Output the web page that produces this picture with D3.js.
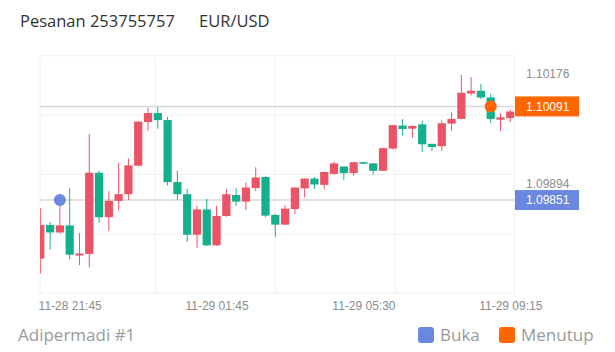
<!DOCTYPE html>
<html>
<head>
<meta charset="utf-8">
<script src="https://cdn.jsdelivr.net/npm/d3@7"></script>
<style>
  body { margin: 0; background: #fff; }
  svg { display: block; font-family: "Liberation Sans", Arial, sans-serif; }
</style>
</head>
<body>
<svg id="chart" width="615" height="352"></svg>
<script>
// 15-minute candles (00:00 slot missing at the daily rollover)
const times = [
    "11-28 21:00", "11-28 21:15", "11-28 21:30", "11-28 21:45", "11-28 22:00", "11-28 22:15",
    "11-28 22:30", "11-28 22:45", "11-28 23:00", "11-28 23:15", "11-28 23:30", "11-28 23:45",
    "11-29 00:15", "11-29 00:30", "11-29 00:45", "11-29 01:00", "11-29 01:15", "11-29 01:30",
    "11-29 01:45", "11-29 02:00", "11-29 02:15", "11-29 02:30", "11-29 02:45", "11-29 03:00",
    "11-29 03:15", "11-29 03:30", "11-29 03:45", "11-29 04:00", "11-29 04:15", "11-29 04:30",
    "11-29 04:45", "11-29 05:00", "11-29 05:15", "11-29 05:30", "11-29 05:45", "11-29 06:00",
    "11-29 06:15", "11-29 06:30", "11-29 06:45", "11-29 07:00", "11-29 07:15", "11-29 07:30",
    "11-29 07:45", "11-29 08:00", "11-29 08:15", "11-29 08:30", "11-29 08:45", "11-29 09:00",
    "11-29 09:15"
];
const opens = [
    1.09701, 1.09787, 1.09768, 1.09786, 1.09709, 1.09713, 1.09921, 1.09807, 1.09849, 1.09866,
    1.09939, 1.10051, 1.10074, 1.10056, 1.09897, 1.09866, 1.09762, 1.09827, 1.09735, 1.09810,
    1.09864, 1.09847, 1.09882, 1.09910, 1.09813, 1.09788, 1.09828, 1.09881, 1.09906, 1.09890,
    1.09918, 1.09937, 1.09920, 1.09948, 1.09945, 1.09926, 1.09983, 1.10042, 1.10034, 1.10045,
    1.09995, 1.09989, 1.10047, 1.10059, 1.10124, 1.10131, 1.10114, 1.10057, 1.10061
];
const highs = [
    1.09830, 1.09795, 1.09852, 1.09881, 1.09767, 1.10020, 1.09926, 1.09874, 1.09947, 1.09958,
    1.10053, 1.10088, 1.10089, 1.10064, 1.09926, 1.09880, 1.09836, 1.09854, 1.09836, 1.09879,
    1.09881, 1.09896, 1.09935, 1.09912, 1.09815, 1.09838, 1.09884, 1.09907, 1.09910, 1.09924,
    1.09949, 1.09938, 1.09949, 1.09949, 1.09946, 1.09985, 1.10044, 1.10058, 1.10042, 1.10054,
    1.09996, 1.10055, 1.10076, 1.10172, 1.10166, 1.10149, 1.10123, 1.10074, 1.10082
];
const lows = [
    1.09663, 1.09724, 1.09766, 1.09699, 1.09684, 1.09678, 1.09793, 1.09772, 1.09825, 1.09851,
    1.09937, 1.10029, 1.10034, 1.09888, 1.09851, 1.09744, 1.09729, 1.09733, 1.09734, 1.09808,
    1.09836, 1.09825, 1.09874, 1.09807, 1.09757, 1.09787, 1.09815, 1.09857, 1.09880, 1.09879,
    1.09916, 1.09903, 1.09913, 1.09943, 1.09917, 1.09925, 1.09981, 1.10016, 1.10010, 1.09974,
    1.09977, 1.09977, 1.10029, 1.10058, 1.10119, 1.10110, 1.10048, 1.10028, 1.10051
];
const closes = [
    1.09787, 1.09768, 1.09786, 1.09711, 1.09714, 1.09921, 1.09807, 1.09849, 1.09866, 1.09940,
    1.10052, 1.10074, 1.10056, 1.09897, 1.09866, 1.09762, 1.09827, 1.09735, 1.09810, 1.09866,
    1.09847, 1.09883, 1.09909, 1.09811, 1.09788, 1.09829, 1.09883, 1.09906, 1.09891, 1.09923,
    1.09945, 1.09920, 1.09948, 1.09944, 1.09926, 1.09984, 1.10043, 1.10033, 1.10041, 1.09994,
    1.09987, 1.10048, 1.10059, 1.10126, 1.10131, 1.10114, 1.10059, 1.10063, 1.10078
];
const xTickValues = ["11-28 21:45", "11-29 01:45", "11-29 05:30", "11-29 09:15"];
const yTickValues = [1.10176, 1.09894];
const yDomain = [1.09612, 1.10221];
const openOrder = { time: "11-28 21:30", price: 1.09851 };
const closeOrder = { time: "11-29 08:45", price: 1.10091 };

const UP = '#eb5466', DOWN = '#14b08c';
const BLUE = '#6a88df', ORANGE = '#ff6600';

const svg = d3.select('#chart');
const plot = { left: 40, right: 514.3, top: 55.7, bottom: 293.3 };

const candles = times.map((t, i) => ({
    time: t, open: opens[i], high: highs[i], low: lows[i], close: closes[i]
}));

// Scales
const x = d3.scalePoint()
    .domain(times)
    .range([40.3, 510.3]);
const step = x.step();
const bodyW = step * 0.84;

const y = d3.scaleLinear()
    .domain(yDomain)
    .range([plot.bottom, plot.top]);

// Title
const title = svg.append('g').style('font-family', '"Open Sans", "Noto Sans", sans-serif')
    .style('font-size', '16.5px').style('fill', '#333');
title.append('text').attr('x', 20).attr('y', 27).text('Pesanan 253755757');
title.append('text').attr('x', 199).attr('y', 27).text('EUR/USD');

// Grid
const grid = svg.append('g').attr('stroke', '#f0f0f0').attr('stroke-width', 1);
const yStep = (yDomain[1] - yDomain[0]) / 4;
d3.range(5).forEach(k => {
    const gy = y(yDomain[0] + k * yStep);
    grid.append('line')
        .attr('x1', plot.left).attr('x2', plot.right)
        .attr('y1', gy).attr('y2', gy);
});
const gx0 = x(times[0]) - step / 2, gx1 = x(times[times.length - 1]) + step / 2;
d3.range(1, 4).forEach(k => {
    const gx = gx0 + k * (gx1 - gx0) / 4;
    grid.append('line')
        .attr('x1', gx).attr('x2', gx)
        .attr('y1', plot.top).attr('y2', plot.bottom);
});
[plot.left, plot.right].forEach(px => {
    grid.append('line')
        .attr('x1', px).attr('x2', px)
        .attr('y1', plot.top).attr('y2', plot.bottom);
});

// Order price lines
[openOrder, closeOrder].forEach(o => {
    svg.append('line')
        .attr('x1', plot.left).attr('x2', plot.right)
        .attr('y1', y(o.price)).attr('y2', y(o.price))
        .attr('stroke', '#d8d8d8')
        .attr('stroke-width', 1.5);
});

// Candles
svg.append('clipPath').attr('id', 'plot-clip')
    .append('rect')
    .attr('x', plot.left).attr('y', plot.top)
    .attr('width', plot.right - plot.left)
    .attr('height', plot.bottom - plot.top);

const cg = svg.append('g').attr('clip-path', 'url(#plot-clip)');
const candle = cg.selectAll('.candle')
    .data(candles)
    .join('g')
    .attr('class', 'candle')
    .attr('fill', d => d.close > d.open ? UP : DOWN)
    .attr('stroke', d => d.close > d.open ? UP : DOWN);

candle.append('line')
    .attr('x1', d => x(d.time)).attr('x2', d => x(d.time))
    .attr('y1', d => y(d.high)).attr('y2', d => y(d.low))
    .attr('stroke-width', 1);

candle.append('rect')
    .attr('x', d => x(d.time) - bodyW / 2)
    .attr('width', bodyW)
    .attr('y', d => y(Math.max(d.open, d.close)))
    .attr('height', d => Math.max(1, Math.abs(y(d.open) - y(d.close))))
    .attr('stroke', 'none');

// Order markers
svg.append('circle')
    .attr('cx', x(openOrder.time)).attr('cy', y(openOrder.price))
    .attr('r', 6).attr('fill', BLUE);
svg.append('circle')
    .attr('cx', x(closeOrder.time)).attr('cy', y(closeOrder.price))
    .attr('r', 6).attr('fill', ORANGE);

// Y axis labels
svg.append('g')
    .selectAll('text')
    .data(yTickValues)
    .join('text')
    .attr('x', 526)
    .attr('y', d => y(d) + 4.3)
    .style('font-size', '12px')
    .style('fill', '#8c8c8c')
    .text(d => d.toFixed(5));

// Price tags
[[openOrder, BLUE], [closeOrder, ORANGE]].forEach(([o, c]) => {
    svg.append('rect')
        .attr('x', 515).attr('y', y(o.price) - 10)
        .attr('width', 64).attr('height', 20)
        .attr('fill', c);
    svg.append('text')
        .attr('x', 526).attr('y', y(o.price) + 4.3)
        .style('font-size', '12px')
        .style('fill', '#fff')
        .text(o.price.toFixed(5));
});

// X axis
const xAxis = svg.append('g')
    .attr('transform', `translate(0,${plot.bottom})`)
    .call(d3.axisBottom(x).tickValues(xTickValues).tickSize(0).tickPadding(8));
xAxis.select('.domain').remove();
xAxis.selectAll('text')
    .style('font-family', '"Liberation Sans", Arial, sans-serif')
    .style('font-size', '12px')
    .style('fill', '#8c8c8c');

// Footer: account + legend
const foot = svg.append('g').style('font-family', '"Open Sans", "Noto Sans", sans-serif')
    .style('font-size', '17px').style('fill', '#9a9a9a');
foot.append('text').attr('x', 18).attr('y', 341).text('Adipermadi #1');

const legendItems = [['Buka', BLUE, 418], ['Menutup', ORANGE, 499]];
legendItems.forEach(([label, color, lx]) => {
    foot.append('rect')
        .attr('x', lx).attr('y', 327)
        .attr('width', 16).attr('height', 16)
        .attr('rx', 3)
        .attr('fill', color);
    foot.append('text').attr('x', lx + 22).attr('y', 341).text(label);
});
</script>
</body>
</html>
